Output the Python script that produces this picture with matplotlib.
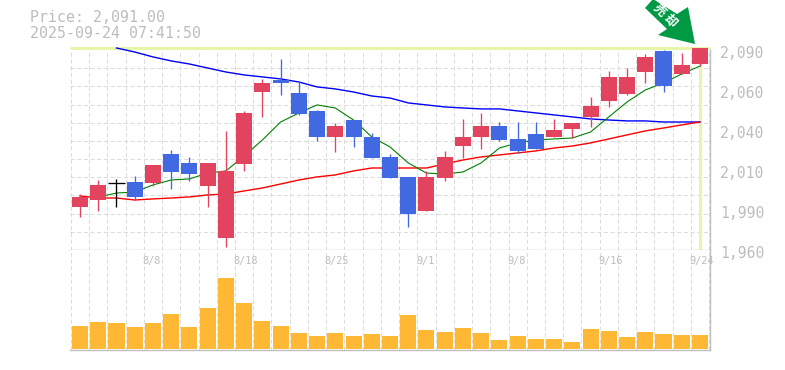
import matplotlib
matplotlib.use("Agg")
import matplotlib.pyplot as plt
from matplotlib.patches import Polygon
from matplotlib.ticker import FixedLocator, NullFormatter

W, H = 785, 370

# Price data
body_top = [1994.5, 2002.3, 2003.4, 2004.2, 2015.3, 2022.4, 2016.6, 2016.6, 2011.4, 2049, 2068.6, 2070.5, 2062,
            2050.4, 2040.6, 2044.5, 2033.5, 2020.5, 2007.5, 2007.5, 2020.5, 2033.5, 2040.6, 2040.6, 2032.2,
            2035.4, 2038, 2042.6, 2053.6, 2072.5, 2072.5, 2085.5, 2089.4, 2080.3, 2091.3]
body_bottom = [1988, 1992.5, 2003.4, 1994.5, 2003.5, 2010.7, 2009.4, 2001.6, 1967.8, 2015.9, 2062.7, 2068.6, 2048.4,
               2033.5, 2033.5, 2033.5, 2019.8, 2006.8, 1983.4, 1985.4, 2006.8, 2027.6, 2033.5, 2031.5, 2024.4,
               2025.7, 2033.5, 2038.7, 2046.5, 2056.9, 2061.4, 2075.7, 2066.6, 2074.4, 2080.9]
highs = [1996.4, 2005.5, 2006.2, 2008.1, 2015.3, 2025, 2020.5, 2016.6, 2037.4, 2050.4, 2071.2, 2084.2, 2069.9,
         2051, 2042.6, 2044.5, 2036, 2022.4, 2007.5, 2011.4, 2024.4, 2045.2, 2049, 2043.2, 2043.2,
         2043.2, 2045.2, 2042.6, 2059.5, 2076.4, 2078.3, 2087.4, 2090, 2088, 2091.3]
lows = [1981.5, 1985.4, 1988, 1992.5, 2001.6, 1999.7, 2004.9, 1988, 1962, 2011.4, 2046.5, 2060.8, 2047.8,
        2030.9, 2023.7, 2027, 2019.8, 2006.8, 1975, 1985.4, 2004.9, 2019.8, 2025.7, 2030.9, 2023,
        2025.7, 2033.5, 2032.8, 2040, 2053, 2060.8, 2068.6, 2062.7, 2074.4, 2079.6]
candle_kind = ["up", "up", "flat", "down", "up", "down", "down", "up", "up", "up", "up", "down", "down", "down",
               "up", "down", "down", "down", "down", "up", "up", "up", "up", "down", "down", "down", "up", "up",
               "up", "up", "up", "up", "down", "up", "up"]

ma_short = [None, 1994.5, 1997, 1997.7, 2002.3, 2005.5, 2006.2, 2010, 2011.4, 2021.1, 2031.5, 2043.2, 2049, 2054.3,
            2052.3, 2044.5, 2033.5, 2027, 2016.6, 2010, 2009.4, 2010.7, 2016.6, 2026.3, 2029.6, 2031.5, 2032.2,
            2032.8, 2036.7, 2046.5, 2056.2, 2064, 2068.6, 2074.4, 2079.6]
ma_mid = [1995.1, 1993.8, 1993.8, 1992.5, 1993.2, 1993.8, 1994.5, 1995.8, 1996.4, 1998.4, 2000.3, 2002.9, 2005.5,
          2007.5, 2008.8, 2011.4, 2013.3, 2013.3, 2013.3, 2013.3, 2015.9, 2018.5, 2020.5, 2021.8, 2023.1, 2024.4,
          2026.3, 2027.6, 2029.6, 2032.2, 2034.8, 2037.4, 2039.3, 2041.3, 2043.2]
ma_long = [None, None, 2091.3, 2088.7, 2085.5, 2082.9, 2080.9, 2078.3, 2075.7, 2073.8, 2072.5, 2071.2, 2069.2, 2066,
           2064.7, 2062.7, 2060.1, 2058.8, 2055.6, 2054.3, 2053, 2052.3, 2051.7, 2051.7, 2050.4, 2049.1, 2047.8,
           2046.5, 2045.2, 2044.5, 2043.9, 2043.9, 2043.2, 2043.2, 2043.2]

volumes = [23, 27, 26, 22, 26, 35, 22, 41, 71, 46, 28, 23, 16, 13, 16, 13, 15, 13, 34, 19, 17, 21, 16, 9, 13,
           10, 10, 7, 20, 18, 12, 17, 15, 14, 14]

price_ticks = [2090, 2064, 2038, 2012, 1986, 1960]
price_labels = ["2,090", "2,060", "2,040", "2,010", "1,990", "1,960"]
date_ticks = [4, 9, 14, 19, 24, 29, 34]
date_labels = ["8/8", "8/18", "8/25", "9/1", "9/8", "9/16", "9/24"]
last_price = 2091.3

title_lines = ["Price: 2,091.00", "2025-09-24 07:41:50"]
signal_text = "売 却"

COLORS = {"up": "#e2445f", "down": "#4169e1", "flat": "#000000"}
ORANGE, LIME = "#ffb833", "#e6f5a8"
AXIS, GRID, TXT = "#bfbfbf", "#dcdcdc", "#bdbdbd"
MONO = "DejaVu Sans Mono"

fig = plt.figure(figsize=(W / 100, H / 100), dpi=100, facecolor="white")


def axes_px(left, top, right, bottom):
    return fig.add_axes([left / W, 1 - bottom / H, (right - left) / W, (bottom - top) / H])


ax = axes_px(70, 50, 710, 250)
av = axes_px(70, 250, 710, 350)
xlim = (-0.55, 34.55)
n = len(body_top)
xs = list(range(n))
grid_x = [i - 0.5 for i in range(n + 1)]
dash = (0, (4, 2.4))

for a in (ax, av):
    a.set_xlim(*xlim)
    a.xaxis.set_major_locator(FixedLocator(grid_x))
    a.xaxis.set_major_formatter(NullFormatter())
    a.tick_params(length=0)
    a.set_axisbelow(True)
    a.grid(axis="x", color=GRID, lw=0.75, ls=dash)
    for s in a.spines.values():
        s.set_visible(False)
    for side in ("right", "bottom"):
        a.spines[side].set_visible(True)
        a.spines[side].set_color(AXIS)
        a.spines[side].set_linewidth(1.0)

ax.set_ylim(1960, 2090)
ax.yaxis.set_major_locator(FixedLocator([1960 + k * 130 / 11 for k in range(1, 11)]))
ax.yaxis.set_major_formatter(NullFormatter())
ax.grid(axis="y", color=GRID, lw=0.75, ls=dash)
ax.patch.set_alpha(0)

# Current-price crosshair
ax.plot([xlim[0], xlim[1]], [last_price, last_price], color=LIME, lw=2.2, clip_on=False,
        solid_capstyle="butt", zorder=1)
ax.plot([n - 1, n - 1], [1960, last_price], color=LIME, lw=2.2, solid_capstyle="butt", zorder=1)

for data, col, lw in ((ma_long, "#0000ff", 1.0), (ma_mid, "#ff0000", 1.0), (ma_short, "#008000", 0.8)):
    px = [i for i, v in zip(xs, data) if v is not None]
    py = [v for v in data if v is not None]
    ax.plot(px, py, color=col, lw=lw, zorder=2, clip_on=False)

for i, (t, b, h, l, kind) in enumerate(zip(body_top, body_bottom, highs, lows, candle_kind)):
    col = COLORS[kind]
    ax.plot([i, i], [l, h], color=col, lw=0.95, solid_capstyle="butt", zorder=3, clip_on=False)
    if kind == "flat":
        ax.plot([i - 0.44, i + 0.44], [t, t], color=col, lw=0.95, solid_capstyle="butt", zorder=3)
    else:
        ax.bar(i, t - b, bottom=b, width=0.88, color=col, lw=0, zorder=4, clip_on=False)

av.set_ylim(-1.5, 98.5)
av.yaxis.set_visible(False)
av.bar(xs, volumes, width=0.88, color=ORANGE, lw=0, zorder=3)

for t, lab in zip(price_ticks, price_labels):
    ax.annotate(lab, xy=(1, t), xycoords=("axes fraction", "data"), xytext=(10, -3),
                textcoords="offset pixels", ha="left", va="center", family=MONO, fontsize=10.6,
                color=TXT, annotation_clip=False)
for t, lab in zip(date_ticks, date_labels):
    av.annotate(lab, xy=(t, 1), xycoords=("data", "axes fraction"), xytext=(-10.5, -11),
                textcoords="offset pixels", ha="left", va="center", family=MONO, fontsize=7.4,
                color=TXT, zorder=5, annotation_clip=False)

for line, y in zip(title_lines, (18, 33)):
    fig.text(30 / W, 1 - y / H, line, ha="left", va="center", family=MONO, fontsize=10.7, color=TXT)

# Signal arrow (figure pixels)
arrow_px = [(645, 8), (653, -1), (677, 14), (688, 7), (695, 44), (658, 35), (667, 29)]
fig.add_artist(Polygon([(x / W, 1 - y / H) for x, y in arrow_px], closed=True, transform=fig.transFigure,
                       facecolor="#009944", edgecolor="none", zorder=6))
fig.text(665 / W, 1 - 16 / H, signal_text, rotation=-45, rotation_mode="anchor", ha="center", va="center",
         family=["Noto Sans CJK JP", "DejaVu Sans"], fontsize=9, fontweight="bold", color="white", zorder=7)

fig.savefig("out.png", dpi=100, facecolor="white")
